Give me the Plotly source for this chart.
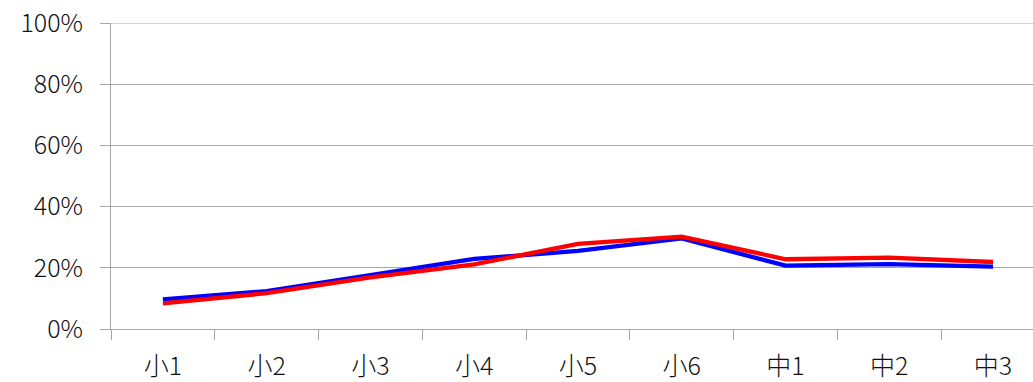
import plotly.graph_objects as go

categories = ["小1", "小2", "小3", "小4", "小5", "小6", "中1", "中2", "中3"]
blue_values = [0.097, 0.124, 0.176, 0.229, 0.255, 0.296, 0.207, 0.212, 0.204]
red_values = [0.084, 0.117, 0.169, 0.211, 0.278, 0.302, 0.228, 0.233, 0.219]
y_tickvals = [0, 0.2, 0.4, 0.6, 0.8, 1.0]
y_ticktext = ["0%", "20%", "40%", "60%", "80%", "100%"]

GRID = "#a6a6a6"
FONT = "Noto Sans CJK JP"
TEXT = "#111111"

fig = go.Figure()
fig.add_trace(go.Scatter(x=categories, y=blue_values, mode="lines",
                         line=dict(color="#0000ff", width=4.3), showlegend=False))
fig.add_trace(go.Scatter(x=categories, y=red_values, mode="lines",
                         line=dict(color="#ff0000", width=4.3), showlegend=False))

# top gridline (plotly omits the gridline at the plot edge)
fig.add_shape(type="line", xref="paper", x0=0, x1=1, yref="y", y0=y_tickvals[-1], y1=y_tickvals[-1],
              line=dict(color=GRID, width=1), layer="below")

fig.update_layout(
    width=1033, height=382,
    margin=dict(l=111, r=0, t=23, b=53, autoexpand=False),
    paper_bgcolor="white", plot_bgcolor="white",
    font=dict(family=FONT, size=20, color=TEXT),
    showlegend=False,
)
fig.update_xaxes(
    type="category", range=[-0.5, 8.385], automargin=False,
    tickson="boundaries", ticks="outside", ticklen=10, tickcolor=GRID, tickwidth=1,
    showgrid=False, showline=True, linecolor=GRID, linewidth=1,
    tickfont=dict(family=FONT, size=25, color=TEXT, weight=300), ticklabelstandoff=15,
)
fig.update_yaxes(
    range=[0, 1], tickvals=y_tickvals, ticktext=y_ticktext, automargin=False,
    ticks="outside", ticklen=10, tickcolor=GRID, tickwidth=1,
    showgrid=True, gridcolor=GRID, gridwidth=1, ticklabeloverflow="allow",
    showline=True, linecolor=GRID, linewidth=1, zeroline=False,
    tickfont=dict(family=FONT, size=25, color=TEXT, weight=300), ticklabelstandoff=12,
)

fig.write_html("out.html", config={"displayModeBar": False},
               post_script="document.body.style.margin='0';")
